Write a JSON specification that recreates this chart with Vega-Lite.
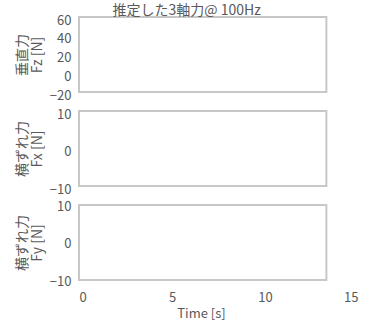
{
  "$schema": "https://vega.github.io/schema/vega-lite/v6.json",
  "padding": {"left": 15, "top": 4, "right": 5, "bottom": 0},
  "background": "white",
  "title": {"text": "推定した3軸力@ 100Hz", "fontSize": 14, "font": "Noto Sans CJK JP", "fontWeight": "normal", "color": "#595959", "offset": -4, "anchor": "middle"},
  "config": {
    "view": {"stroke": null},
    "font": "Noto Sans CJK JP",
    "axis": {"domain": false, "ticks": false, "grid": false, "labelColor": "#595959", "labelFontSize": 13, "titleColor": "#595959", "titleFontSize": 14, "titleFontWeight": "normal", "labelFont": "Noto Sans CJK JP", "titleFont": "Noto Sans CJK JP"},
    "axisY": {"labelPadding": 8, "titlePadding": 5, "titleLineHeight": 15, "labelOffset": 3}
  },
  "data": {"values": [
    {"panel": "Fz", "t0": 0, "t1": 13.3, "lo": -20, "hi": 60},
    {"panel": "Fx", "t0": 0, "t1": 13.3, "lo": -10, "hi": 10},
    {"panel": "Fy", "t0": 0, "t1": 13.3, "lo": -10, "hi": 10}
  ]},
  "bounds": "flush",
  "spacing": 19,
  "vconcat": [
    {
      "width": 279, "height": 75,
      "transform": [{"filter": "datum.panel === 'Fz'"}],
      "mark": {"type": "rect", "fill": "white", "stroke": "#c8c8c8", "strokeWidth": 2},
      "encoding": {
        "x": {"field": "t0", "type": "quantitative", "scale": {"domain": [0, 15], "nice": false}, "axis": null},
        "x2": {"field": "t1"},
        "y": {"field": "lo", "type": "quantitative", "scale": {"domain": [-20, 60], "nice": false}, "axis": {"values": [-20, 0, 20, 40, 60], "title": ["垂直力", "Fz [N]"]}},
        "y2": {"field": "hi"}
      }
    },
    {
      "width": 279, "height": 75,
      "transform": [{"filter": "datum.panel === 'Fx'"}],
      "mark": {"type": "rect", "fill": "white", "stroke": "#c8c8c8", "strokeWidth": 2},
      "encoding": {
        "x": {"field": "t0", "type": "quantitative", "scale": {"domain": [0, 15], "nice": false}, "axis": null},
        "x2": {"field": "t1"},
        "y": {"field": "lo", "type": "quantitative", "scale": {"domain": [-10, 10], "nice": false}, "axis": {"values": [-10, 0, 10], "title": ["横ずれ力", "Fx [N]"]}},
        "y2": {"field": "hi"}
      }
    },
    {
      "width": 279, "height": 75,
      "transform": [{"filter": "datum.panel === 'Fy'"}],
      "mark": {"type": "rect", "fill": "white", "stroke": "#c8c8c8", "strokeWidth": 2},
      "encoding": {
        "x": {"field": "t0", "type": "quantitative", "scale": {"domain": [0, 15], "nice": false}, "axis": {"values": [0, 5, 10, 15], "title": "Time [s]", "labelPadding": 11, "titlePadding": 3, "titleX": 122, "titleFontSize": 13}},
        "x2": {"field": "t1"},
        "y": {"field": "lo", "type": "quantitative", "scale": {"domain": [-10, 10], "nice": false}, "axis": {"values": [-10, 0, 10], "title": ["横ずれ力", "Fy [N]"], "labelOffset": 1}},
        "y2": {"field": "hi"}
      }
    }
  ]
}
